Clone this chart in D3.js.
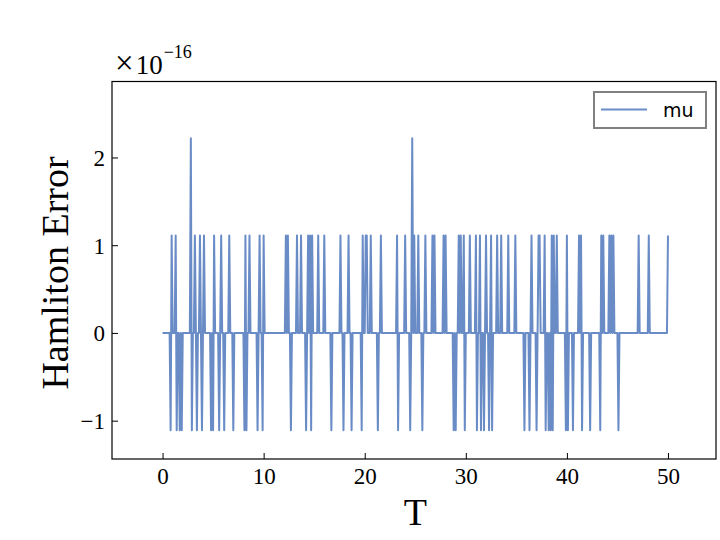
<!DOCTYPE html>
<html>
<head>
<meta charset="utf-8">
<script src="https://cdn.jsdelivr.net/npm/d3@7"></script>
<style>
  body { margin: 0; background: #fff; }
  svg { display: block; }
</style>
</head>
<body>
<div id="chart"></div>
<script>
// sample step of the run and its end time
const dt = 0.1
const tEnd = 50

// samples where the error is +1.11e-16
const upTimes = [
    0.9, 1.3, 3.2, 3.7, 4.1, 5.1, 5.8, 6.6, 8.2, 8.6, 9.6, 10.0, 12.2, 12.4,
    13.3, 13.7, 14.4, 14.6, 14.8, 15.4, 16.0, 17.6, 18.4, 19.8, 20.1, 20.2,
    20.6, 21.6, 23.2, 24.0, 24.9, 25.3, 26.0, 26.7, 26.9, 27.8, 28.0, 29.3,
    29.5, 29.8, 30.4, 31.0, 31.4, 32.0, 32.5, 33.1, 33.5, 34.2, 34.9, 36.5,
    37.2, 37.3, 37.8, 38.5, 38.7, 39.0, 40.0, 41.2, 41.4, 43.4, 43.6, 44.2,
    44.4, 44.6, 47.1, 48.1, 50.0,
]
// samples where the error is -1.11e-16
const downTimes = [
    0.8, 1.4, 1.7, 1.9, 2.9, 3.4, 3.9, 4.8, 5.0, 5.6, 6.1, 7.0, 8.1, 8.3,
    9.4, 9.9, 12.7, 14.2, 14.7, 16.7, 17.9, 18.7, 19.7, 21.3, 23.3, 24.5,
    25.7, 28.8, 29.0, 29.9, 31.1, 31.5, 31.8, 32.3, 32.6, 35.8, 36.3, 37.0,
    37.9, 38.2, 38.4, 38.6, 39.9, 40.1, 40.6, 41.5, 42.3, 43.3, 45.1,
]
// samples where the error is +2.22e-16
const peakTimes = [2.8, 24.7]

const seriesName = 'mu'
const xTicks = [0, 10, 20, 30, 40, 50]
const yTicks = [-1, 0, 1, 2]
const exponent = -16

// build the sampled series (zero except at the listed samples)
const key = (t) => Math.round(t / dt)
const errors = new Map()
upTimes.forEach((t) => errors.set(key(t), 1.11e-16))
downTimes.forEach((t) => errors.set(key(t), -1.11e-16))
peakTimes.forEach((t) => errors.set(key(t), 2.22e-16))
const series = d3.range(0, key(tEnd) + 1).map((i) => ({
    t: i * dt,
    v: errors.get(i) || 0,
}))

const WIDTH = 720
const HEIGHT = 540
const MARGIN = { TOP: 81.5, RIGHT: 4, BOTTOM: 81, LEFT: 112 }
const SERIF = '"Liberation Serif", "Times New Roman", serif'
const LINE_COLOR = '#6a8cc6'

const svg = d3.select('#chart')
    .append('svg')
    .attr('width', WIDTH)
    .attr('height', HEIGHT)

const x = d3.scaleLinear()
    .domain([-5, 54.75])
    .range([MARGIN.LEFT, WIDTH - MARGIN.RIGHT])

const y = d3.scaleLinear()
    .domain([-1.437e-16, 2.866e-16])
    .range([HEIGHT - MARGIN.BOTTOM, MARGIN.TOP])

// data line
const line = d3.line()
    .x((d) => x(d.t))
    .y((d) => y(d.v))

svg.append('path')
    .datum(series)
    .attr('fill', 'none')
    .attr('stroke', LINE_COLOR)
    .attr('stroke-width', 2)
    .attr('stroke-linejoin', 'round')
    .attr('d', line)

// axes, ticks pointing inward
const xAxis = d3.axisBottom(x)
    .tickValues(xTicks)
    .tickSizeInner(-6)
    .tickSizeOuter(0)

const yAxis = d3.axisLeft(y)
    .tickValues(yTicks.map((d) => d * Math.pow(10, exponent)))
    .tickFormat((d) => d3.format('d')(Math.round(d / Math.pow(10, exponent))).replace('-', '\u2212'))
    .tickSizeInner(-6)
    .tickSizeOuter(0)
    .tickPadding(7)

const gx = svg.append('g')
    .attr('transform', `translate(0,${HEIGHT - MARGIN.BOTTOM})`)
    .call(xAxis)

const gy = svg.append('g')
    .attr('transform', `translate(${MARGIN.LEFT},0)`)
    .call(yAxis)

;[gx, gy].forEach((g) => {
    g.select('.domain').remove()
    g.selectAll('.tick line').attr('stroke', '#000').attr('stroke-width', 1)
    g.selectAll('.tick text')
        .attr('fill', '#000')
        .style('font-family', SERIF)
        .style('font-size', '23px')
})
gx.selectAll('.tick text').attr('dy', '0.71em').attr('y', 9)
gy.selectAll('.tick text').attr('dy', '0.34em')

// frame
svg.append('rect')
    .attr('x', MARGIN.LEFT)
    .attr('y', MARGIN.TOP)
    .attr('width', WIDTH - MARGIN.RIGHT - MARGIN.LEFT)
    .attr('height', HEIGHT - MARGIN.BOTTOM - MARGIN.TOP)
    .attr('fill', 'none')
    .attr('stroke', '#000')
    .attr('stroke-width', 1.2)

// offset text
const offset = svg.append('text')
    .attr('x', 115)
    .attr('y', 73.5)
    .style('font-family', SERIF)
    .style('font-size', '27px')
offset.append('tspan')
    .style('font-size', '33px')
    .text('\u00d7')
offset.append('tspan')
    .attr('dx', 2)
    .text('10')
offset.append('tspan')
    .attr('dy', -15.5)
    .attr('dx', 1)
    .style('font-size', '18px')
    .text(`\u2212${Math.abs(exponent)}`)

// axis labels
svg.append('text')
    .attr('x', x(25))
    .attr('y', 525)
    .attr('text-anchor', 'middle')
    .style('font-family', SERIF)
    .style('font-size', '38px')
    .text('T')

svg.append('text')
    .attr('transform', 'translate(68,273) rotate(-90)')
    .attr('text-anchor', 'middle')
    .style('font-family', SERIF)
    .style('font-size', '38px')
    .text('Hamliton Error')

// legend
const legend = svg.append('g')
    .attr('transform', 'translate(594,92)')

legend.append('rect')
    .attr('width', 112)
    .attr('height', 36)
    .attr('fill', '#fff')
    .attr('stroke', '#808080')
    .attr('stroke-width', 2)

legend.append('line')
    .attr('x1', 7)
    .attr('x2', 53)
    .attr('y1', 17.5)
    .attr('y2', 17.5)
    .attr('stroke', LINE_COLOR)
    .attr('stroke-width', 2)

legend.append('text')
    .attr('x', 69)
    .attr('y', 24.5)
    .style('font-family', '"DejaVu Sans", sans-serif')
    .style('font-size', '19px')
    .text(seriesName)
</script>
</body>
</html>
